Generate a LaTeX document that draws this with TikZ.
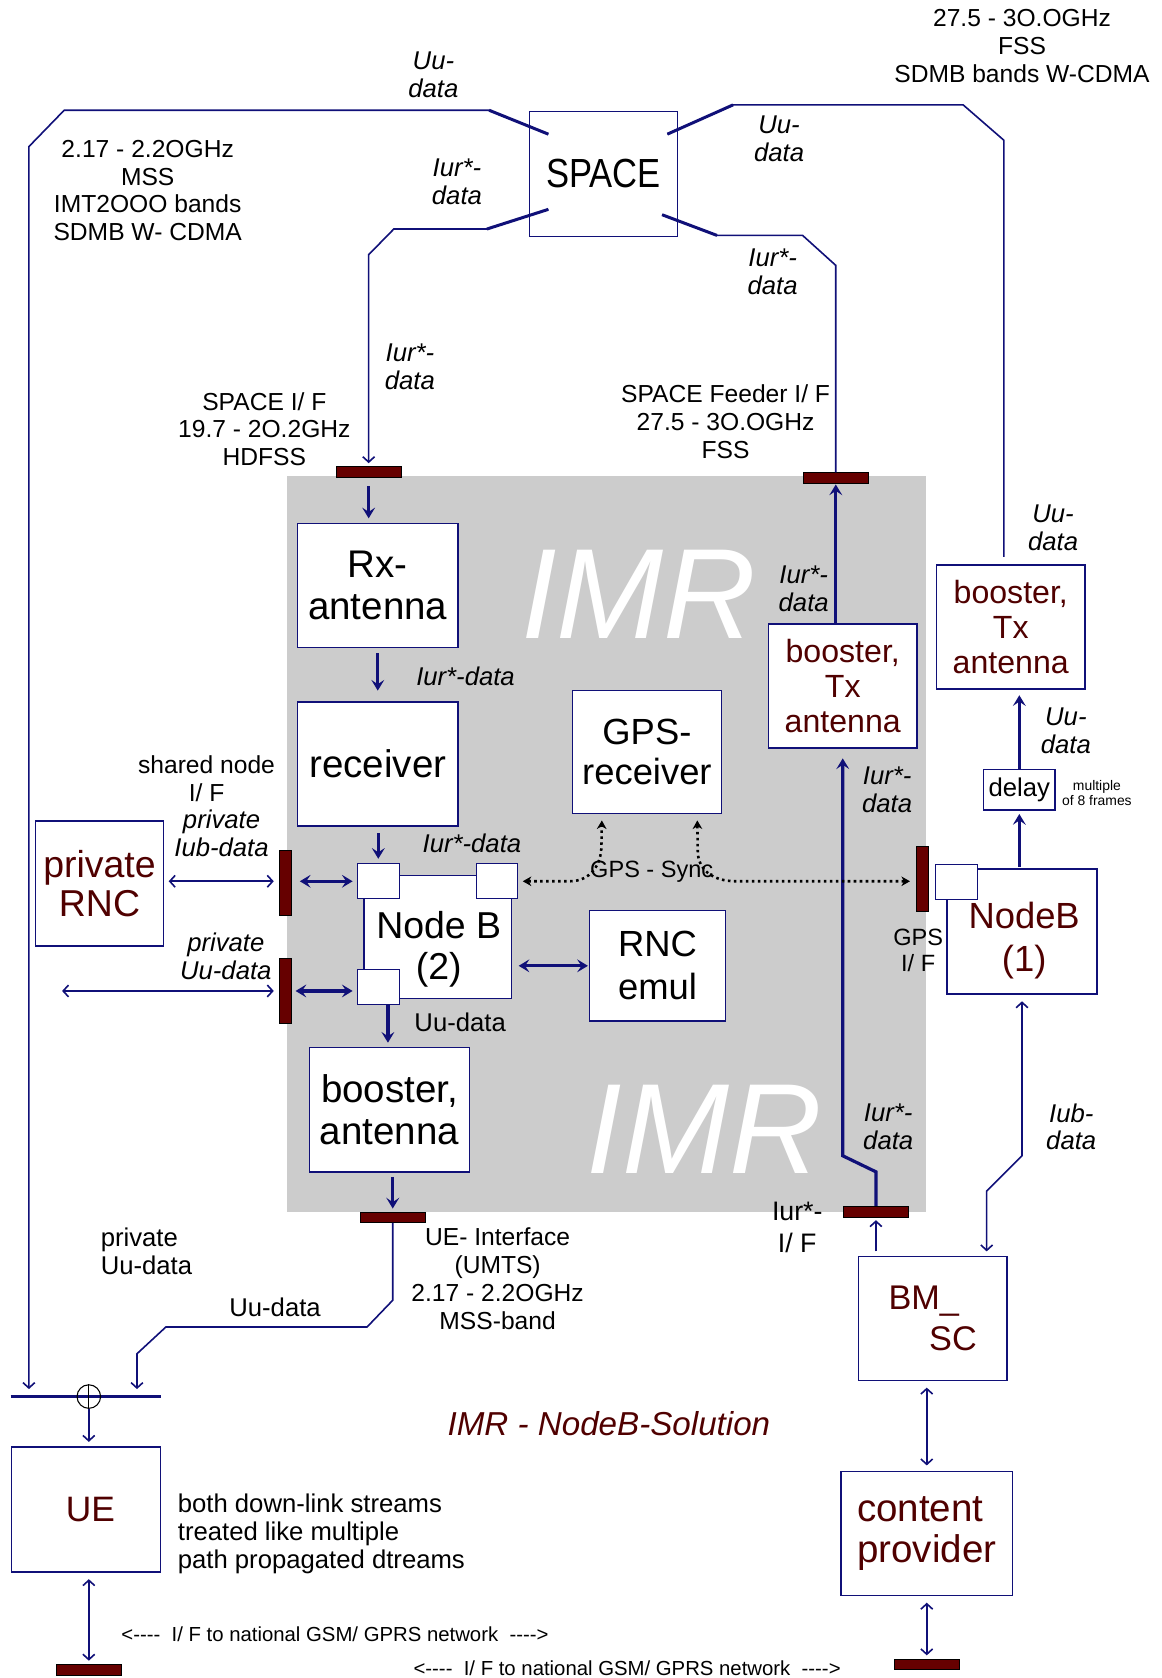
\documentclass[tikz,border=0pt]{standalone}
\usepackage{fontspec}
\setmainfont{Liberation Sans}
\newfontfamily\condfont{Liberation Sans}[FakeStretch=0.85]
\usetikzlibrary{arrows.meta,calc}
\definecolor{navy}{RGB}{16,16,120}
\definecolor{maroon}{RGB}{80,0,0}
\definecolor{barred}{RGB}{102,0,0}
\definecolor{imrgray}{RGB}{204,204,204}
\newcommand{\setfs}[2]{\fontsize{#1}{#2}\selectfont}
\tikzset{
  box/.style={draw=navy, line width=1.3pt, fill=white, inner sep=0pt, align=center},
  port/.style={draw=navy, line width=1pt, fill=white, minimum width=39pt, minimum height=33pt, inner sep=0pt},
  ifbar/.style={fill=barred, draw=black, line width=0.4pt, inner sep=0pt},
  hbar/.style={ifbar, minimum width=61pt, minimum height=10pt},
  vbar/.style={ifbar, minimum width=11pt, minimum height=61pt},
  thinln/.style={draw=navy, line width=1.5pt, >={Straight Barb[length=5pt,width=11pt]}},
  thickln/.style={draw=navy, line width=3pt, >={Stealth[length=10pt,width=12pt,inset=4pt]}},
  stub/.style={draw=navy, line width=2.8pt},
  sync/.style={draw=black, line width=2.4pt, dash pattern=on 2.4pt off 3.2pt, >={Stealth[length=8pt,width=9pt,inset=2.5pt]}},
  lbl/.style={font=\setfs{23}{26}, align=center, inner sep=0pt},
  ilbl/.style={font=\setfs{24}{26}\itshape, align=center, inner sep=0pt},
  imrtxt/.style={text=white, font=\setfs{120}{120}\itshape, inner sep=0pt}
}
\begin{document}
\begin{tikzpicture}[x=1pt,y=-1pt]
\useasboundingbox (0,0) rectangle (1085,1568);
% IMR housing
\fill[imrgray] (268,445) rectangle (865,1133);
\node[imrtxt] (imra) at (597,555) {IMR};
\node[imrtxt] (imrb) at (658,1055) {IMR};

% satellite and interface bars
\node[box, minimum width=138pt, minimum height=117pt, font=\condfont\setfs{38}{40}] (space) at (564,162.5) {SPACE};
\node[hbar] (spaceif) at (344.5,441) {};
\node[hbar] (feedif) at (781,446.5) {};
\node[hbar] (ueif) at (367,1137.5) {};
\node[hbar] (iurif) at (818.5,1132) {};
\node[hbar] (cpext) at (866,1555) {};
\node[hbar] (ueext) at (83,1560) {};
\node[vbar] (shif1) at (266.5,825) {};
\node[vbar] (shif2) at (266.5,926) {};
\node[vbar] (gpsif) at (862,821) {};

% boxes
\node[box, minimum width=150pt, minimum height=116pt, font=\setfs{36}{40}] (rx) at (353,547) {Rx-\\antenna};
\node[box, minimum width=150pt, minimum height=116pt, font=\setfs{36}{40}] (rcv) at (353,714) {receiver};
\node[box, minimum width=139pt, minimum height=115pt, font=\setfs{34}{37}] (gpsr) at (604.5,702.5) {GPS-\\receiver};
\node[box, minimum width=139pt, minimum height=116pt, font=\setfs{30}{33}, text=maroon] (btxm) at (787.5,641) {booster,\\Tx\\antenna};
\node[box, minimum width=139pt, minimum height=116pt, font=\setfs{30}{33}, text=maroon] (btxr) at (944.5,586) {booster,\\Tx\\antenna};
\node[box, minimum width=67pt, minimum height=38pt, font=\setfs{24}{28}] (delay) at (952.5,738) {delay};
\node[box, minimum width=140pt, minimum height=117pt] (nb1) at (955,870.5) {};
\node[font=\setfs{34}{40}, text=maroon, align=center, inner sep=0pt] (nb1t) at (957,879) {NodeB\\(1)};
\node[port] (nb1p) at (893.5,824) {};
\node[box, minimum width=138pt, minimum height=115pt] (nb2) at (409,875.5) {};
\node[font=\setfs{35}{39}, align=center, inner sep=0pt] (nb2t) at (410,887) {Node B\\(2)};
\node[port] (sqa) at (353.5,823.5) {};
\node[port] (sqb) at (464.5,823.5) {};
\node[port] (sqc) at (353.5,922.5) {};
\node[box, minimum width=120pt, minimum height=117pt, font=\setfs{35}{37}, text=maroon] (prnc) at (93,825.5) {private\\RNC};
\node[box, minimum width=127pt, minimum height=103pt, font=\setfs{34}{40}] (rnce) at (614.5,902.5) {RNC\\emul};
\node[box, minimum width=150pt, minimum height=116pt, font=\setfs{36}{39}] (bant) at (364,1037) {booster,\\antenna};
\node[box, minimum width=139pt, minimum height=116pt, font=\setfs{32}{38}, text=maroon, align=left] (bmsc) at (871.5,1232) {BM\_\\\hspace*{38pt}SC};
\node[box, minimum width=160pt, minimum height=116pt, font=\setfs{36}{39}, text=maroon, align=left] (cp) at (866,1433) {content\\provider};
\node[box, minimum width=139pt, minimum height=117pt, font=\setfs{33}{39}, text=maroon] (ue) at (80.5,1410.5) {\hspace*{8pt}UE};

% combiner in front of the UE
\coordinate (cmbW) at (10,1305);
\coordinate (cmbE) at (150,1305);
\coordinate (cmbA) at (27,1305);
\coordinate (cmbB) at (128,1305);
\draw[navy, line width=2.5pt] (cmbW) -- (cmbE);
\node[circle, draw=black, line width=1pt, minimum size=22pt, inner sep=0pt] (sum) at (83,1305) {};
\draw[line width=1pt] (sum.north) -- (sum.south);

% satellite links
\coordinate (spNW) at ($(space.north west)+(18,22)$);
\coordinate (spSW) at ($(space.south west)+(18,-26)$);
\coordinate (spNE) at ($(space.north east)+(-10,22)$);
\coordinate (spSE) at ($(space.south east)+(-15,-21)$);
\draw[thinln,->,shorten >=7pt] (spNW) -- (457,103) -- (60,103) -- (27,137) -- (cmbA);
\draw[stub] (spNW) -- (457,103);
\draw[thinln,->,shorten >=3pt] (spSW) -- (455,214) -- (368,214) -- (344.5,238) -- (spaceif.north);
\draw[stub] (spSW) -- (455,214);
\draw[thinln] (spNE) -- (685,98) -- (900,98) -- (938,131) -- ($(btxr.north)+(-6.5,-7)$);
\draw[stub] (spNE) -- (685,98);
\draw[thinln] (spSE) -- (670,220) -- (750,220) -- (781,248) -- (feedif.north);
\draw[stub] (spSE) -- (670,220);

% inside the IMR
\draw[thickln,->,shorten <=8pt,shorten >=4pt] (spaceif.south) -- (spaceif.south |- rx.north);
\draw[thickln,->,shorten <=5pt,shorten >=10pt] (rx.south) -- (rcv.north);
\draw[thickln,->,shorten <=6pt,shorten >=4pt] (rcv.south -| sqa.north) -- (sqa.north);
\draw[thickln,->,shorten >=1pt] (btxm.north -| feedif.south) -- (feedif.south);
\draw[thickln,->,shorten >=9pt] (iurif.north) -- (818.5,1095) -- (787.5,1080) -- (btxm.south);
\draw[thickln,<->,shorten <=8pt,shorten >=4pt] (shif1.east |- sqa.west) -- (sqa.west);
\draw[thickln,<->,shorten <=4pt,shorten >=4pt] (shif2.east) -- (sqc.west |- shif2.east);
\draw[thickln,<->,shorten <=6pt,shorten >=1pt] (rnce.west -| nb2.east) -- (rnce.west);
\coordinate (sqcout) at ($(sqc.south)+(9,0)$);
\draw[thickln,->,shorten >=4pt] (sqcout) -- (sqcout |- bant.north);
\draw[thickln,->,shorten <=4pt,shorten >=3pt] (bant.south -| ueif.north) -- (ueif.north);

% GPS synchronisation
\coordinate (gpsA) at ($(gpsr.south)+(-42,0)$);
\coordinate (gpsB) at ($(gpsr.south)+(47,0)$);
\draw[sync,<->,shorten <=4pt,shorten >=6pt] (sqb.east) -- (532,823.5) .. controls (552,823.5) and (562,808) .. (562,790) -- (gpsA);
\draw[sync,<->,shorten <=6pt,shorten >=6pt] (gpsB) -- (652,795) .. controls (652,812) and (665,823.5) .. (688,823.5) -- (gpsif.west |- 688,823.5);

% right hand side
\draw[thickln,->,shorten <=1pt,shorten >=3pt] (nb1.north -| delay.south) -- (delay.south);
\draw[thickln,->,shorten >=5pt] (delay.north) -- (delay.north |- btxr.south);
\draw[thinln,->,shorten <=4pt,shorten >=3pt] (bmsc.north -| iurif.south) -- (iurif.south);
\draw[thinln,<->,shorten <=4pt,shorten >=6pt] ($(bmsc.north)+(50.5,0)$) -- (922,1113) -- (955,1080) -- (nb1.south);
\draw[thinln,<->,shorten <=6pt,shorten >=5pt] (cp.north |- bmsc.south) -- (cp.north);
\draw[thinln,<->,shorten <=6pt,shorten >=3pt] (cp.south) -- (cpext.north);

% left hand side
\coordinate (puuL) at (58,926);
\draw[thinln,<->,shorten <=4pt,shorten >=5pt] (prnc.east |- sqa.west) -- (shif1.west |- sqa.west);
\draw[thinln,<->,shorten >=5pt] (puuL) -- (shif2.west);
\draw[thinln,->,shorten >=7pt] (ueif.south) -- (367,1215) -- (343,1240) -- (155,1240) -- (128,1265) -- (cmbB);
\draw[thinln,->,shorten >=4pt] (sum.south) -- (sum.south |- ue.north);
\draw[thinln,<->,shorten <=6pt,shorten >=3pt] (ue.south -| ueext.north) -- (ueext.north);

% labels
\node[lbl] (fss) at (955,43) {27.5 - 3O.OGHz\\FSS\\SDMB bands W-CDMA};
\node[lbl] (mss) at (138,178) {2.17 - 2.2OGHz\\MSS\\IMT2OOO bands\\SDMB W- CDMA};
\node[lbl] (spifl) at (247,401) {SPACE I/ F\\19.7 - 2O.2GHz\\HDFSS};
\node[lbl] (feedl) at (678,394) {SPACE Feeder I/ F\\27.5 - 3O.OGHz\\FSS};
\node[ilbl] (uutop) at (405,70) {Uu-\\data};
\node[ilbl] (iura) at (427,170) {Iur*-\\data};
\node[ilbl] (uutr) at (728,130) {Uu-\\data};
\node[ilbl] (iurb) at (722,254) {Iur*-\\data};
\node[ilbl] (iurc) at (383,343) {Iur*-\\data};
\node[ilbl] (iurd) at (751,550) {Iur*-\\data};
\node[ilbl] (uur) at (984,493) {Uu-\\data};
\node[ilbl] (iure) at (435,632) {Iur*-data};
\node[ilbl] (uud) at (996,683) {Uu-\\data};
\node[font=\setfs{13}{14}, align=center, inner sep=0pt] (mult) at (1025,741) {multiple\\of 8 frames};
\node[ilbl] (iurf) at (829,738) {Iur*-\\data};
\node[lbl] (shared) at (193,728) {shared node\\I/ F};
\node[ilbl] (pib) at (207,779) {private\\Iub-data};
\node[ilbl] (iurg) at (441,788) {Iur*-data};
\node[font=\setfs{22}{26}, inner sep=0pt] (gpssync) at (609,815) {GPS - Sync};
\node[font=\setfs{22}{25}, align=center, inner sep=0pt] (gpsifl) at (858,888) {GPS\\I/ F};
\node[ilbl] (puu) at (211,894) {private\\Uu-data};
\node[lbl, font=\setfs{24}{26}] (uun) at (430,955) {Uu-data};
\node[ilbl] (iurh) at (830,1053) {Iur*-\\data};
\node[ilbl] (iub) at (1001,1053) {Iub-\\data};
\node[lbl, font=\setfs{25}{30}] (iurifl) at (745,1147) {Iur*-\\I/ F};
\node[lbl, font=\setfs{24}{26}, align=left, anchor=west] (pud) at (94,1169) {private\\Uu-data};
\node[lbl, font=\setfs{24}{26}] (uul) at (257,1222) {Uu-data};
\node[lbl] (ueifl) at (465,1195) {UE- Interface\\(UMTS)\\2.17 - 2.2OGHz\\MSS-band};
\node[font=\setfs{31}{36}\itshape, text=maroon, inner sep=0pt] (title) at (569,1330) {IMR - NodeB-Solution};
\node[lbl, font=\setfs{24}{26}, align=left, anchor=west] (both) at (166,1433) {both down-link streams\\treated like multiple\\path propagated dtreams};
\node[font=\setfs{19}{22}, inner sep=0pt] (gsma) at (313,1527) {<{-}{-}{-}{-}\ \ I/ F to national GSM/ GPRS network\ \ {-}{-}{-}{-}>};
\node[font=\setfs{19}{22}, inner sep=0pt] (gsmb) at (586,1559) {<{-}{-}{-}{-}\ \ I/ F to national GSM/ GPRS network\ \ {-}{-}{-}{-}>};
\end{tikzpicture}
\end{document}
